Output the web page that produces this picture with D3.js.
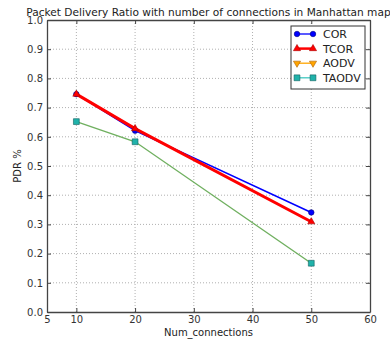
<!DOCTYPE html>
<html>
<head>
<meta charset="utf-8">
<script src="https://d3js.org/d3.v7.min.js"></script>
<style>
  body { margin: 0; background: #fff; }
  svg { font-family: "DejaVu Sans", sans-serif; }
</style>
</head>
<body>
<div id="chart"></div>
<script>
// data
var connections = [10, 20, 50];
var corValues = [0.746, 0.621, 0.341];
var tcorValues = [0.746, 0.628, 0.309];
var aodvValues = [];          // in legend, nothing visible in the plot
var taodvValues = [0.652, 0.583, 0.167];
var xTicks = [5, 10, 20, 30, 40, 50, 60];
var yTicks = [0.0, 0.1, 0.2, 0.3, 0.4, 0.5, 0.6, 0.7, 0.8, 0.9, 1.0];

var series = [
    { name: "COR", values: corValues, stroke: "#0000ff", width: 1.6, marker: "circle", fill: "#0000ff", mstroke: "#000080", legendLine: "#0000ff" },
    { name: "TCOR", values: tcorValues, stroke: "#ff0000", width: 3, marker: "triangle", fill: "#ff0000", mstroke: "#aa0000", legendLine: "#ff0000" },
    { name: "AODV", values: aodvValues, stroke: "#ffa500", width: 1.2, marker: "triangleDown", fill: "#ffa500", mstroke: "#b06000", legendLine: "#ffa500" },
    { name: "TAODV", values: taodvValues, stroke: "#70b060", width: 1.4, marker: "square", fill: "#20b2aa", mstroke: "#106060", legendLine: "#40c8c0" }
];

var W = 390, H = 340;
var margin = { left: 47, right: 20, top: 20, bottom: 28 };
var width = W - margin.left - margin.right;
var height = H - margin.top - margin.bottom;

var svg = d3.select("#chart")
    .append("svg")
    .attr("width", W)
    .attr("height", H);

var g = svg.append("g")
    .attr("transform", "translate(" + margin.left + "," + margin.top + ")");

var x = d3.scaleLinear().domain([5, 60]).range([0, width]);
var y = d3.scaleLinear().domain([0, 1]).range([height, 0]);

// grid
g.append("g").selectAll("line")
    .data(xTicks.slice(1, -1))
    .enter().append("line")
    .attr("x1", d => x(d)).attr("x2", d => x(d))
    .attr("y1", 0).attr("y2", height)
    .attr("stroke", "#b0b0b0").attr("stroke-width", 1)
    .attr("stroke-dasharray", "1,2");

g.append("g").selectAll("line")
    .data(yTicks.slice(1, -1))
    .enter().append("line")
    .attr("y1", d => y(d)).attr("y2", d => y(d))
    .attr("x1", 0).attr("x2", width)
    .attr("stroke", "#b0b0b0").attr("stroke-width", 1)
    .attr("stroke-dasharray", "1,2");

// axes
var xaxis = g.append("g")
    .attr("transform", "translate(0," + height + ")")
    .call(d3.axisBottom(x).tickValues(xTicks).tickFormat(d3.format("d")).tickSizeInner(-4).tickSizeOuter(0).tickPadding(4));
var yaxis = g.append("g")
    .call(d3.axisLeft(y).tickValues(yTicks).tickFormat(d3.format(".1f")).tickSizeInner(-4).tickSizeOuter(0).tickPadding(4));
var xtop = g.append("g")
    .call(d3.axisTop(x).tickValues(xTicks).tickFormat("").tickSizeInner(-4).tickSizeOuter(0));
var yright = g.append("g")
    .attr("transform", "translate(" + width + ",0)")
    .call(d3.axisRight(y).tickValues(yTicks).tickFormat("").tickSizeInner(-4).tickSizeOuter(0));

[xaxis, yaxis, xtop, yright].forEach(function (a) {
    a.select(".domain").attr("stroke", "#444").attr("stroke-width", 1.3);
    a.selectAll("line").attr("stroke", "#444");
    a.selectAll("text").attr("fill", "#333").style("font-size", "10px").style("font-family", "DejaVu Sans");
});

// labels
svg.append("text")
    .attr("x", margin.left + width / 2).attr("y", 16)
    .attr("text-anchor", "middle")
    .style("font-size", "10.6px").attr("fill", "#222")
    .text("Packet Delivery Ratio with number of connections in Manhattan map");

svg.append("text")
    .attr("x", margin.left + width / 2).attr("y", 336)
    .attr("text-anchor", "middle")
    .style("font-size", "10px").attr("fill", "#222")
    .text("Num_connections");

svg.append("text")
    .attr("transform", "translate(21," + (margin.top + height / 2) + ") rotate(-90)")
    .attr("text-anchor", "middle")
    .style("font-size", "10px").attr("fill", "#222")
    .text("PDR %");

function symbolFor(m) {
    if (m == "circle") return d3.symbol().type(d3.symbolCircle).size(24);
    if (m == "square") return d3.symbol().type(d3.symbolSquare).size(34);
    return d3.symbol().type(d3.symbolTriangle).size(22);
}

var line = d3.line()
    .x(function (d) { return x(d[0]); })
    .y(function (d) { return y(d[1]); });

series.forEach(function (s) {
    var pts = s.values.map(function (v, i) { return [connections[i], v]; });
    if (pts.length == 0) return;
    g.append("path")
        .datum(pts)
        .attr("fill", "none")
        .attr("stroke", s.stroke)
        .attr("stroke-width", s.width)
        .attr("d", line);
    g.selectAll(null)
        .data(pts)
        .enter().append("path")
        .attr("transform", function (d) {
            return "translate(" + x(d[0]) + "," + y(d[1]) + ")" + (s.marker == "triangleDown" ? " rotate(180)" : "");
        })
        .attr("d", symbolFor(s.marker))
        .attr("fill", s.fill)
        .attr("stroke", s.mstroke)
        .attr("stroke-width", 0.6);
});

// legend
var legend = svg.append("g").attr("transform", "translate(291,26)");
legend.append("rect")
    .attr("width", 74).attr("height", 63)
    .attr("fill", "#fff").attr("stroke", "#333").attr("stroke-width", 1);

var items = legend.selectAll(".legend")
    .data(series)
    .enter().append("g")
    .attr("class", "legend")
    .attr("transform", function (d, i) { return "translate(0," + (8 + i * 14.6) + ")"; });

items.append("line")
    .attr("x1", 6).attr("x2", 22)
    .attr("stroke", d => d.legendLine)
    .attr("stroke-width", d => d.name == "TCOR" ? 2.5 : 1.3);

items.selectAll(null)
    .data(d => [[6, d], [22, d]])
    .enter().append("path")
    .attr("transform", function (p) { return "translate(" + p[0] + ",0)" + (p[1].marker == "triangleDown" ? " rotate(180)" : ""); })
    .attr("d", p => symbolFor(p[1].marker)())
    .attr("fill", p => p[1].fill)
    .attr("stroke", p => p[1].mstroke)
    .attr("stroke-width", 0.6);

items.append("text")
    .attr("x", 32).attr("y", 4)
    .style("font-size", "11px").attr("fill", "#222")
    .text(d => d.name);
</script>
</body>
</html>
